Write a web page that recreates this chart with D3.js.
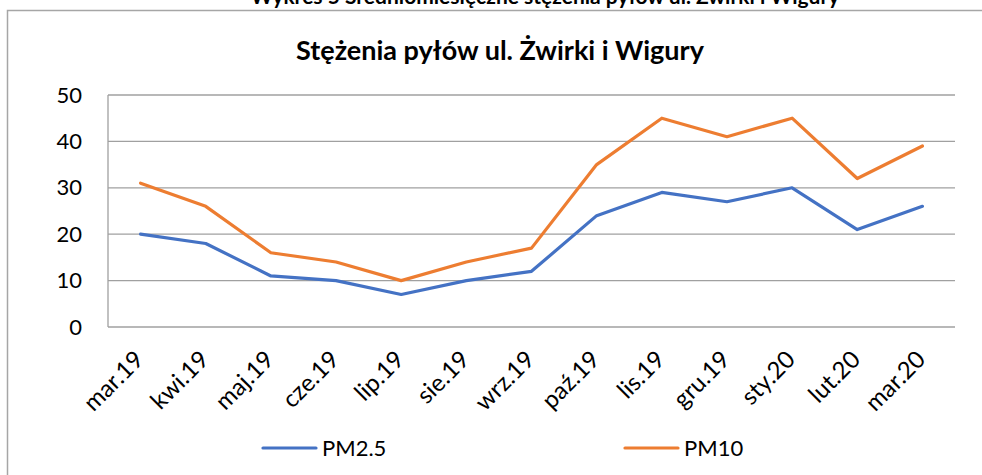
<!DOCTYPE html>
<html>
<head>
<meta charset="utf-8">
<script src="https://cdn.jsdelivr.net/npm/d3@7"></script>
<style>
  body { margin: 0; background: #fff; overflow: hidden; }
  svg { display: block; font-family: Lato, "Open Sans", sans-serif; }
</style>
</head>
<body>
<div id="chart"></div>
<script>
const months = ["mar.19", "kwi.19", "maj.19", "cze.19", "lip.19", "sie.19", "wrz.19",
  "paź.19", "lis.19", "gru.19", "sty.20", "lut.20", "mar.20"];
const pm25 = [20, 18, 11, 10, 7, 10, 12, 24, 29, 27, 30, 21, 26];
const pm10 = [31, 26, 16, 14, 10, 14, 17, 35, 45, 41, 45, 32, 39];
const yTicks = [0, 10, 20, 30, 40, 50];

const width = 982, height = 475;
const plot = { left: 108, right: 955, top: 95, bottom: 327 };

const series = [
  { name: "PM2.5", values: pm25, color: "#4472C4", lx: 263 },
  { name: "PM10", values: pm10, color: "#ED7D31", lx: 625 }
];

const svg = d3.select("#chart").append("svg")
  .attr("width", width)
  .attr("height", height);

// outer frame, runs off the right and bottom edges
svg.append("rect")
  .attr("x", 7.5).attr("y", 10.5)
  .attr("width", 1020).attr("height", 500)
  .attr("fill", "none")
  .attr("stroke", "#a6a6a6")
  .attr("stroke-width", 1.5);

// caption above the chart, cut off by the top edge as in the source
svg.append("text")
  .attr("x", 545).attr("y", 4)
  .attr("text-anchor", "middle")
  .attr("font-weight", "bold")
  .attr("font-size", 21)
  .text("Wykres 5 Średniomiesięczne stężenia pyłów ul. Żwirki i Wigury");

svg.append("text")
  .attr("x", 500).attr("y", 60)
  .attr("text-anchor", "middle")
  .attr("font-weight", "bold")
  .attr("font-size", 27)
  .text("Stężenia pyłów ul. Żwirki i Wigury");

const x = d3.scalePoint()
  .domain(months)
  .range([plot.left, plot.right])
  .padding(0.5);

const y = d3.scaleLinear()
  .domain([0, 50])
  .range([plot.bottom, plot.top]);

// gridlines
svg.append("g")
  .selectAll("line")
  .data(yTicks)
  .join("line")
  .attr("x1", plot.left).attr("x2", plot.right)
  .attr("y1", d => y(d)).attr("y2", d => y(d))
  .attr("stroke", "#a0a0a0")
  .attr("stroke-width", 1.3);

svg.append("line")
  .attr("x1", plot.left).attr("x2", plot.left)
  .attr("y1", plot.top).attr("y2", plot.bottom)
  .attr("stroke", "#a0a0a0")
  .attr("stroke-width", 1.3);

const yAxis = svg.append("g")
  .attr("transform", `translate(${plot.left},0)`)
  .call(d3.axisLeft(y).tickValues(yTicks).tickSize(0).tickPadding(26));
yAxis.select(".domain").remove();
yAxis.selectAll("text")
  .attr("font-family", "Lato, sans-serif")
  .attr("font-size", 22)
  .attr("fill", "#000");

const xAxis = svg.append("g")
  .attr("transform", `translate(0,${plot.bottom})`)
  .call(d3.axisBottom(x).tickSize(0).tickPadding(0));
xAxis.select(".domain").remove();
xAxis.selectAll("text")
  .attr("font-family", "Lato, sans-serif")
  .attr("font-size", 24)
  .attr("fill", "#000")
  .attr("text-anchor", "end")
  .attr("dy", null)
  .attr("y", 0)
  .attr("transform", "translate(4,34) rotate(-45)");

const line = d3.line()
  .x((d, i) => x(months[i]))
  .y(d => y(d));

svg.append("g")
  .selectAll("path")
  .data(series)
  .join("path")
  .attr("d", d => line(d.values))
  .attr("fill", "none")
  .attr("stroke", d => d.color)
  .attr("stroke-width", 3.2)
  .attr("stroke-linejoin", "round")
  .attr("stroke-linecap", "round");

// legend
const legend = svg.append("g")
  .selectAll("g")
  .data(series)
  .join("g")
  .attr("transform", d => `translate(${d.lx},448)`);
legend.append("line")
  .attr("x1", 0).attr("x2", 53)
  .attr("stroke", d => d.color)
  .attr("stroke-width", 3.2)
  .attr("stroke-linecap", "round");
legend.append("text")
  .attr("x", 59).attr("y", 8)
  .attr("font-size", 22)
  .text(d => d.name);
</script>
</body>
</html>
